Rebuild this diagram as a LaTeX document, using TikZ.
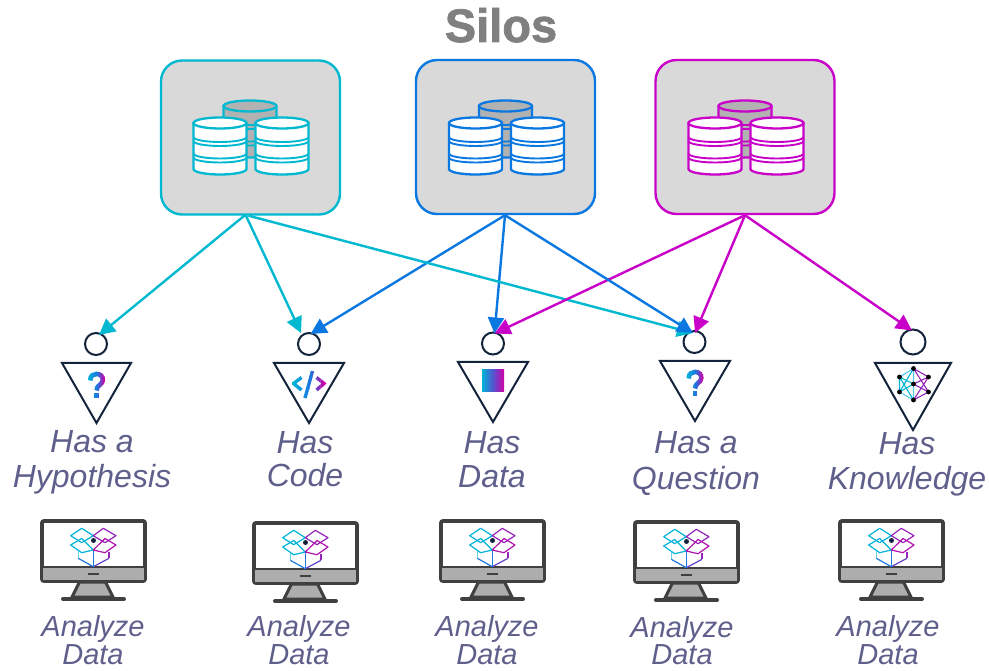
\documentclass[tikz,border=0pt]{standalone}
\usepackage{fontspec}
\setmainfont{Liberation Sans}
\newfontfamily\silofont[BoldFeatures={FakeBold=1.6}]{Liberation Sans}
\usetikzlibrary{arrows.meta}
\definecolor{cy}{HTML}{00B8D0}
\definecolor{bl}{HTML}{0A78E0}
\definecolor{mg}{HTML}{C800C8}
\definecolor{inkd}{HTML}{14233C}
\definecolor{lab}{HTML}{5F5F8C}
\definecolor{gcy}{HTML}{00B4D8}
\definecolor{gbl}{HTML}{1E78E0}
\definecolor{gmg}{HTML}{D000A8}
\definecolor{mon}{HTML}{404040}
\tikzset{
 x=1pt,y=-1pt,
 silobox/.style={draw=#1,line width=2.4pt,fill=black!15,rounded corners=21pt,minimum width=179pt,minimum height=154pt,inner sep=0pt},
 link/.style={draw=#1,line width=2.4pt,-{Triangle[length=16pt,width=16pt]}},
 head/.style={draw=inkd,line width=2pt,circle,inner sep=0pt,minimum size=#1,fill=white},
 body/.style={draw=inkd,line width=2pt,line join=miter},
 haslabel/.style={font=\fontsize{32}{32}\selectfont\itshape,text=lab,anchor=base,inner sep=0pt},
 analabel/.style={font=\fontsize{29}{29}\selectfont\itshape,text=lab,anchor=base,inner sep=0pt},
 titlelabel/.style={font=\silofont\fontsize{47}{47}\selectfont\bfseries,text=black!50,anchor=base,inner sep=0pt},
}
% one cylinder: centre x, top y, ring colour, body fill
\newcommand{\cyl}[5]{%
 \fill[#4] (#1-26.5,#2) -- (#1-26.5,#2+46) arc[start angle=180,end angle=0,x radius=26.5,y radius=5.5] -- (#1+26.5,#2) -- cycle;
 \foreach \d in {14,18,30.5,34.5}{\draw[#3,line width=1.9pt] (#1-26.5,#2+\d) arc[start angle=180,end angle=0,x radius=26.5,y radius=5];}
 \draw[#3,line width=2.3pt,fill=#5] (#1,#2) ellipse[x radius=26.5,y radius=5.5];
 \draw[#3,line width=2.3pt] (#1-26.5,#2) -- (#1-26.5,#2+46) arc[start angle=180,end angle=0,x radius=26.5,y radius=5.5] -- (#1+26.5,#2);
}
\newcommand{\silostack}[2]{%
 \begin{scope}[shift={(#1,0)}]
 \cyl{0}{106}{#2}{black!30}{black!30}
 \cyl{-30}{123}{#2}{white}{white}
 \cyl{32}{123}{#2}{white}{white}
 \end{scope}}
% gradient stroke: x0, x1, y0, y1, path drawing commands
\newcommand{\gradstroke}[5]{%
 \foreach \i in {0,...,11}{%
  \pgfmathsetmacro{\xa}{#1+(#2-#1)*\i/12}
  \pgfmathsetmacro{\xb}{#1+(#2-#1)*(\i+1)/12+.3}
  \pgfmathtruncatemacro{\pp}{\i<6 ? 100-\i*100/6 : 100-(\i-6)*100/5}
  \ifnum\i<6 \colorlet{gc}{gcy!\pp!gbl}\else\colorlet{gc}{gbl!\pp!gmg}\fi
  \begin{scope}
   \clip (\xa,#3) rectangle (\xb,#4);
   #5
  \end{scope}}%
}
\newcommand{\qicon}[2]{%
 \begin{scope}[shift={(#1,#2)}]
 \gradstroke{-9}{9}{5}{38}{%
  \draw[gc,line width=4.6pt] (-6.3,17.5) .. controls (-6.3,12.5) and (-3,11) .. (0,11) .. controls (4,11) and (6.3,13) .. (6.3,17) .. controls (6.3,21.5) and (0,22) .. (0,27.5);
  \fill[gc] (-2.4,29.5) rectangle (2.4,34.5);}
 \end{scope}}
\newcommand{\codeicon}[2]{%
 \begin{scope}[shift={(#1,#2)}]
 \gradstroke{-17}{17}{5}{38}{%
  \draw[gc,line width=3.4pt] (-7.5,14.5) -- (-15.5,20.5) -- (-7.5,27);
  \draw[gc,line width=3.4pt] (3.5,8) -- (-4,35);
  \draw[gc,line width=3.4pt] (7.5,14.5) -- (15,20.5) -- (7.5,27);}
 \end{scope}}
\newcommand{\neticon}[2]{%
 \begin{scope}[shift={(#1,#2)},line width=1.1pt]
 \coordinate (nt) at (0,5.5); \coordinate (nc) at (0,21); \coordinate (nb) at (0,37);
 \coordinate (nl) at (-14,14); \coordinate (nL) at (-14,29);
 \coordinate (nr) at (15,14); \coordinate (nR) at (15,29);
 \draw[gcy] (nl)--(nL) (nl)--(nc) (nL)--(nc) (nl)--(nb) (nL)--(nt);
 \draw[gbl!60!cyan!70] (nt)--(nc) (nc)--(nb) (nl)--(nt) (nL)--(nb);
 \draw[gmg!70!bl] (nt)--(nr) (nt)--(nR) (nb)--(nr) (nb)--(nR) (nc)--(nr) (nc)--(nR);
 \foreach \q in {nt,nc,nb,nl,nL,nr,nR}{\fill[black] (\q) circle[radius=2.4];}
 \end{scope}}
% monitor: left x, top y
\newcommand{\monitor}[2]{%
 \begin{scope}[shift={(#1,#2)}]
 \draw[mon,line width=3pt,fill=black!32] (39.5,63) -- (32,78) -- (73,78) -- (65.5,63) -- cycle;
 \draw[mon,line width=4pt,line cap=round] (23,80) -- (84,80);
 \draw[mon,line width=3.8pt,rounded corners=2pt,fill=white] (2,2) rectangle (105,62);
 \fill[black!32] (3,48) rectangle (104,60.5);
 \draw[mon,line width=2.6pt] (2,48) -- (105,48);
 \draw[mon,line width=2.2pt] (47.5,55) -- (58.5,55);
 % open box
 \begin{scope}[line width=1.2pt,line join=round]
 \draw[gcy!60] (38.3,31) -- (38.3,39.3);
 \draw[gmg!70!bl] (69,32.7) -- (69,39.3);
 \draw[gbl] (38.3,39.3) -- (53.3,47.7);
 \draw[gmg!45!bl] (69,39.3) -- (53.3,47.7);
 \draw[gbl] (53.3,31) -- (53.3,47.7);
 \draw[gcy] (30.7,16.7) -- (41.7,9.3) -- (53.3,16.7) -- (41.7,23.7) -- cycle;
 \draw[gcy] (30.7,26) -- (41.7,19.5) -- (53.3,31) -- (41.7,33.7) -- cycle;
 \draw[gmg!70!bl] (53.3,16.7) -- (63.3,9.3) -- (76,16.7) -- (65,23.7) -- cycle;
 \draw[gmg!85!bl] (53.3,31) -- (65,19.5) -- (76,26) -- (65,33.7) -- cycle;
 \end{scope}
 \fill[inkd] (53.5,21.5) circle[radius=2.5];
 \end{scope}}
\begin{document}
\begin{tikzpicture}
\useasboundingbox (0,0) rectangle (989,671);
\node[titlelabel] (title) at (501,42) {Silos};
\node[silobox=cy] (s1) at (250.5,137.5) {};
\node[silobox=bl] (s2) at (505.5,137) {};
\node[silobox=mg] (s3) at (745,137) {};
\silostack{250}{cy}
\silostack{505.5}{bl}
\silostack{745}{mg}
% people
\node[head=22pt] (p1) at (96,344) {};
\node[head=22pt] (p2) at (309,344) {};
\node[head=22pt] (p3) at (493,343.5) {};
\node[head=22pt] (p4) at (694.5,342) {};
\node[head=25pt] (p5) at (913,342) {};
\draw[body] (62,363) -- (131,363) -- (96.5,423) -- cycle;
\draw[body] (274,363) -- (344,363) -- (309,423) -- cycle;
\draw[body] (458,362) -- (528,362) -- (493,422) -- cycle;
\draw[body] (660,361) -- (730,361) -- (695,421) -- cycle;
\draw[body] (875,363) -- (951,363) -- (913,430) -- cycle;
\qicon{96.5}{363}
\codeicon{309}{363}
\shade[left color=gcy,right color=gmg,middle color=gbl!70!gmg] (482,369.5) rectangle (504,391.5);
\qicon{695}{361}
\neticon{913.5}{363}
% connectors
\draw[link=cy] ([xshift=-5pt,yshift=1pt]s1.south) -- ([xshift=3pt,yshift=-3pt]p1.north);
\draw[link=cy] ([xshift=-5pt,yshift=1pt]s1.south) -- ([xshift=-8pt,yshift=-1pt]p2.north);
\draw[link=bl] ([xshift=-.5pt]s2.south) -- ([xshift=1.5pt,yshift=-2pt]p2.north);
\draw[link=bl] ([xshift=-.5pt]s2.south) -- ([xshift=1.5pt,yshift=-2pt]p3.north);
\draw[link=cy] ([xshift=-2pt]s1.south) -- ([xshift=-1.5pt,yshift=-3pt]p4.north);
\draw[link=mg] (s3.south) -- ([xshift=1.5pt,yshift=-2pt]p3.north);
\draw[link=bl] ([xshift=-.5pt]s2.south) -- ([xshift=-1.5pt,yshift=-3pt]p4.north);
\draw[link=mg] (s3.south) -- ([xshift=.5pt,yshift=-3pt]p4.north);
\draw[link=mg] (s3.south) -- ([xshift=-1pt,yshift=-2pt]p5.north);
% labels
\node[haslabel] (h1a) at (92,452) {Has a};
\node[haslabel] (h1b) at (92,487) {Hypothesis};
\node[haslabel] (h2a) at (305,453) {Has};
\node[haslabel] (h2b) at (305,486) {Code};
\node[haslabel] (h3a) at (492,453) {Has};
\node[haslabel] (h3b) at (492,487) {Data};
\node[haslabel] (h4a) at (696,453) {Has a};
\node[haslabel] (h4b) at (696,489) {Question};
\node[haslabel] (h5a) at (907,454) {Has};
\node[haslabel] (h5b) at (907,489) {Knowledge};
% monitors
\monitor{40}{519}
\monitor{252}{521}
\monitor{439}{519}
\monitor{633}{520}
\monitor{838}{519}
\node[analabel] (a1a) at (93,636) {Analyze};
\node[analabel] (a1b) at (93,664.5) {Data};
\node[analabel] (a2a) at (299,636) {Analyze};
\node[analabel] (a2b) at (299,664.5) {Data};
\node[analabel] (a3a) at (487,636) {Analyze};
\node[analabel] (a3b) at (487,664.5) {Data};
\node[analabel] (a4a) at (682,637) {Analyze};
\node[analabel] (a4b) at (682,664.5) {Data};
\node[analabel] (a5a) at (888,636) {Analyze};
\node[analabel] (a5b) at (888,664.5) {Data};
\end{tikzpicture}
\end{document}
